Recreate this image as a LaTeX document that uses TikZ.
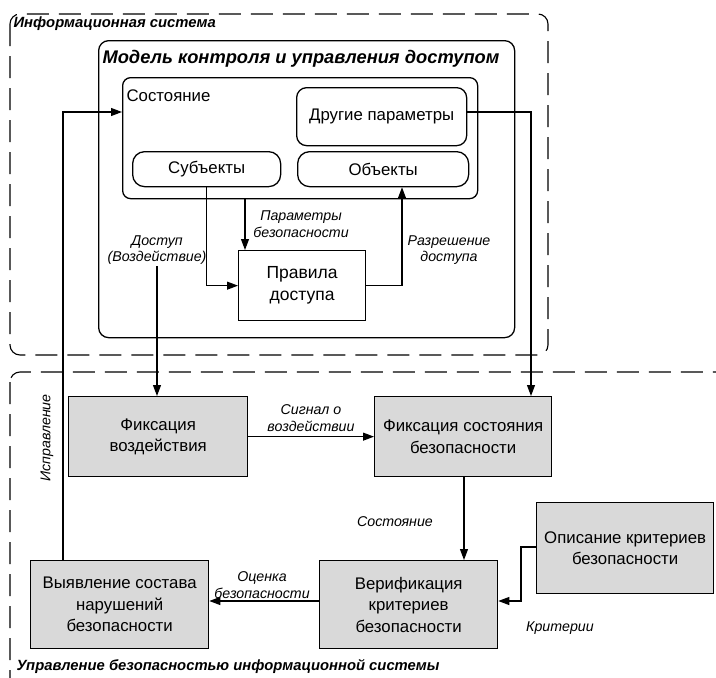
\documentclass[tikz,border=0pt]{standalone}
\usepackage{fontspec}
\setmainfont{Liberation Sans}
\usetikzlibrary{arrows.meta,calc}
\definecolor{boxgray}{RGB}{217,217,217}
\begin{document}
\begin{tikzpicture}[x=1pt,y=-1pt,
 line width=1.1pt,
 arr/.style={-{Triangle[length=11pt,width=8pt]}},
 grp/.style={draw, dash pattern=on 22pt off 10pt, rounded corners=10pt, line width=1.1pt},
 cont/.style={draw, rounded corners=10pt, line width=1.3pt, anchor=north west, inner sep=0pt},
 sbox/.style={draw, rounded corners=10pt, line width=1.3pt, anchor=north west, align=center, font=\fontsize{16.8}{20}\selectfont, inner sep=0pt},
 gbox/.style={draw, fill=boxgray, line width=1.3pt, anchor=north west, align=center, font=\fontsize{16.8}{21.5}\selectfont, inner sep=0pt},
 lab/.style={font=\itshape\fontsize{14.2}{16.5}\selectfont, align=center},
 ttl/.style={font=\bfseries\itshape\fontsize{14.8}{17}\selectfont, anchor=base west, inner sep=0pt},
 ]
\useasboundingbox (0,0) rectangle (716,678);

% groups
\draw[grp] (10,14) rectangle (548,355);
\draw[grp] (10,372) rectangle (760,700);
\node[ttl] (t1) at (13,27) {Информационная система};
\node[ttl] (t2) at (16,670) {Управление безопасностью информационной системы};

% model container
\node[cont, minimum width=416pt, minimum height=297pt] (model) at (98,40) {};
\node[font=\bfseries\itshape\fontsize{18.3}{21}\selectfont, anchor=base west, inner sep=0pt] (mtitle) at (102,63) {Модель контроля и управления доступом};

% state container
\node[cont, rounded corners=8pt, minimum width=355pt, minimum height=121pt] (state) at (122,77) {};
\node[font=\fontsize{16.8}{20}\selectfont, anchor=base west, inner sep=0pt] (stl) at (126,101) {Состояние};

\node[sbox, minimum width=170pt, minimum height=58pt] (other) at (296,87) {Другие параметры};
\node[sbox, minimum width=148pt, minimum height=35pt, rounded corners=12pt] (subj) at (132,151) {Субъекты};
\node[sbox, minimum width=171pt, minimum height=35pt, rounded corners=12pt] (obj) at (297,151) {Объекты};
\node[draw, line width=1.3pt, anchor=north west, align=center, inner sep=0pt, font=\fontsize{17.5}{22}\selectfont, minimum width=127pt, minimum height=70pt] (rules) at (238,250) {Правила\\доступа};

% lower boxes
\node[gbox, minimum width=179pt, minimum height=80pt] (fixact) at (68,396) {Фиксация\\воздействия};
\node[gbox, minimum width=177pt, minimum height=80pt] (fixstate) at (374,396) {Фиксация состояния\\безопасности};
\node[gbox, minimum width=177pt, minimum height=91pt] (descr) at (536,502) {Описание критериев\\безопасности};
\node[gbox, minimum width=178pt, minimum height=88pt] (verif) at (319,560) {Верификация\\критериев\\безопасности};
\node[gbox, minimum width=178pt, minimum height=88pt] (detect) at (30,560) {Выявление состава\\нарушений\\безопасности};

% labels
\node[lab] (lparam) at (301,224) {Параметры\\безопасности};
\node[lab] (lperm) at (449,250) {Разрешение\\доступа};
\node[lab, inner sep=1pt] (lacc) at (157,250) {Доступ\\(Воздействие)};
\node[lab] (lsig) at (311,418) {Сигнал о\\воздействии};
\node[lab] (lstate) at (395,522) {Состояние};
\node[lab] (lcrit) at (560,628) {Критерии};
\node[lab] (leval) at (262,585) {Оценка\\безопасности};
\node[lab, rotate=90] (lfix) at (47,438) {Исправление};

% connectors
\coordinate (c1) at (245,250);
\draw[arr] (c1 |- state.south) -- (c1);
\draw[arr] (subj.south) |- (rules.west);
\coordinate (c2) at (402,0);
\draw[arr] (rules.east) -| (c2 |- obj.south);
\draw[arr] (lacc.south) -- (lacc.south |- fixact.north);
\coordinate (c3) at (531,112);
\draw[arr] (other.east |- c3) -- (c3) -- (c3 |- fixstate.north);
\coordinate (c4) at (63,112);
\draw[arr] (c4 |- detect.north) -- (c4) -- (state.west |- c4);
\draw[arr] (fixact.east) -- (fixstate.west);
\coordinate (c5) at (464,0);
\draw[arr] (c5 |- fixstate.south) -- (c5 |- verif.north);
\coordinate (c6) at (521,547);
\coordinate (c7) at (521,601);
\draw[arr] (descr.west |- c6) -- (c6) -- (c7) -- (verif.east |- c7);
\draw[arr] (verif.west |- c7) -- (detect.east |- c7);
\end{tikzpicture}
\end{document}
